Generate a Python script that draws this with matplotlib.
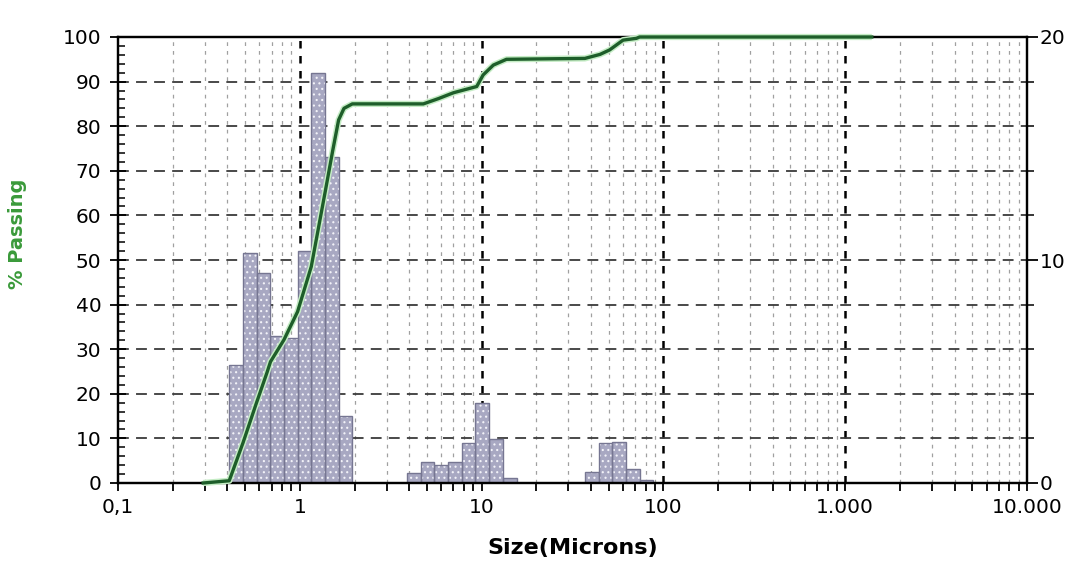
import numpy as np
import matplotlib
matplotlib.use('Agg')
import matplotlib.pyplot as plt
from matplotlib.ticker import FixedLocator, NullFormatter

# ---- data ----
# Microtrac-style size channels (microns) and % in each channel (right axis)
channel_edges = [0.409, 0.486, 0.578, 0.688, 0.818, 0.972, 1.156, 1.375, 1.635, 1.945,
                 2.312, 2.75, 3.27, 3.89, 4.62, 5.5, 6.54, 7.78, 9.25, 11.0, 13.08,
                 15.56, 18.5, 22.0, 26.16, 31.11, 37.0, 44.0, 52.33, 62.23, 74.0, 88.0]
channel_pct = [5.3, 10.3, 9.4, 6.6, 6.5, 10.4, 18.4, 14.6, 3.0,
               0, 0, 0, 0,
               0.46, 0.96, 0.80, 0.92, 1.78, 3.58, 1.96, 0.24,
               0, 0, 0, 0, 0,
               0.50, 1.78, 1.82, 0.62, 0.14]

# cumulative % passing curve (left axis)
cum_size = [0.294, 0.409, 0.486, 0.578, 0.658, 0.69, 0.818, 0.972, 1.156, 1.375,
            1.52, 1.635, 1.75, 1.945, 4.78, 5.8, 7.0, 9.4, 10.2, 11.6, 13.7,
            37.0, 44.8, 50.6, 60.0, 71.0, 74.0, 1400.0]
cum_pass = [0, 0.5, 8.9, 18.0, 24.6, 27.2, 32.1, 38.4, 48.5, 65.0,
            74.7, 81.4, 84.0, 85.0, 85.0, 86.2, 87.5, 88.9, 91.5, 93.7, 95.0,
            95.2, 96.1, 97.1, 99.3, 99.7, 100.0, 100.0]

x_tick_vals = [0.1, 1, 10, 100, 1000, 10000]
x_tick_labels = ['0,1', '1', '10', '100', '1.000', '10.000']
left_ticks = list(range(0, 101, 10))
right_ticks = [0, 10, 20]

# ---- figure ----
plt.rcParams['font.family'] = ['DejaVu Sans']
fig = plt.figure(figsize=(10.78, 5.65), dpi=100)
pos = [118 / 1078, 1 - 483 / 565, (1027 - 118) / 1078, (483 - 37) / 565]
ax = fig.add_axes(pos)
ax2 = ax.twinx()
ax.set_zorder(2)
ax2.set_zorder(1)
ax.patch.set_visible(False)

ax.set_xscale('log')
ax.set_xlim(0.1, 10000)
ax.set_ylim(0, 100)
ax2.set_ylim(0, 20)

# grid (on the lower axes, below bars)
ax2.set_axisbelow(True)
ax2.yaxis.set_major_locator(FixedLocator(right_ticks))
ax2.yaxis.set_minor_locator(FixedLocator(list(range(0, 21, 2))))
ax2.yaxis.grid(True, which='both', color='#3a3a3a', ls=(0, (6, 4)), lw=1.3)
minor_x = [m * 10.0 ** e for e in range(-1, 4) for m in range(2, 10)]
ax2.vlines(minor_x, 0, 1, transform=ax2.get_xaxis_transform(), colors='#a0a0a0',
           linestyles=(0, (3, 4)), lw=0.9, zorder=0.4)
ax2.vlines(x_tick_vals[1:-1], 0, 1, transform=ax2.get_xaxis_transform(), colors='black',
           linestyles=(0, (3, 3)), lw=1.8, zorder=0.45)

# histogram bars
lefts = np.array(channel_edges[:-1])
rights = np.array(channel_edges[1:])
vals = np.array(channel_pct, dtype=float)
m = vals > 0
plt.rcParams['hatch.linewidth'] = 0.8
ax2.bar(lefts[m], vals[m], width=(rights - lefts)[m], align='edge',
        facecolor='#a8a8c2', edgecolor='#f2f2f8', lw=0, hatch='...', zorder=1)
ax2.bar(lefts[m], vals[m], width=(rights - lefts)[m], align='edge',
        facecolor='none', edgecolor='#767692', lw=1.0, zorder=1.1)

# cumulative curve
ax.plot(cum_size, cum_pass, color='#c4ecc4', lw=4.5, solid_capstyle='butt',
        clip_on=False, zorder=3)
ax.plot(cum_size, cum_pass, color='#1e5e2a', lw=2.4, clip_on=False, zorder=4)

# ticks
ax.set_xticks(x_tick_vals)
ax.set_xticklabels(x_tick_labels)
ax.xaxis.set_minor_locator(FixedLocator(minor_x))
ax.xaxis.set_minor_formatter(NullFormatter())
ax.tick_params(axis='x', which='both', direction='out', length=6, width=1.3,
               labelsize=14.5, pad=5, colors='black')
ax.set_yticks(left_ticks)
ax.yaxis.set_minor_locator(FixedLocator(list(range(0, 101, 2))))
ax.tick_params(axis='y', which='major', direction='inout', length=12, width=1.3,
               labelsize=14.5, pad=6)
ax.tick_params(axis='y', which='minor', direction='in', length=5, width=1.1)
ax2.set_yticklabels(['0', '10', '20'])
ax2.tick_params(axis='y', which='major', direction='out', length=8, width=1.3,
                labelsize=14.5, pad=1)
ax2.tick_params(axis='y', which='minor', direction='out', length=5, width=1.1)

for a in (ax, ax2):
    for s in a.spines.values():
        s.set_linewidth(1.6)
        s.set_color('black')

ax.set_xlabel('Size(Microns)', fontsize=16, fontweight='bold', labelpad=15)
fig.text(0.016, 0.587, '% Passing', rotation=90, color='#3a9a3a', fontsize=14,
         fontweight='bold', ha='center', va='center')

fig.savefig('out.png', dpi=100, facecolor='white')
